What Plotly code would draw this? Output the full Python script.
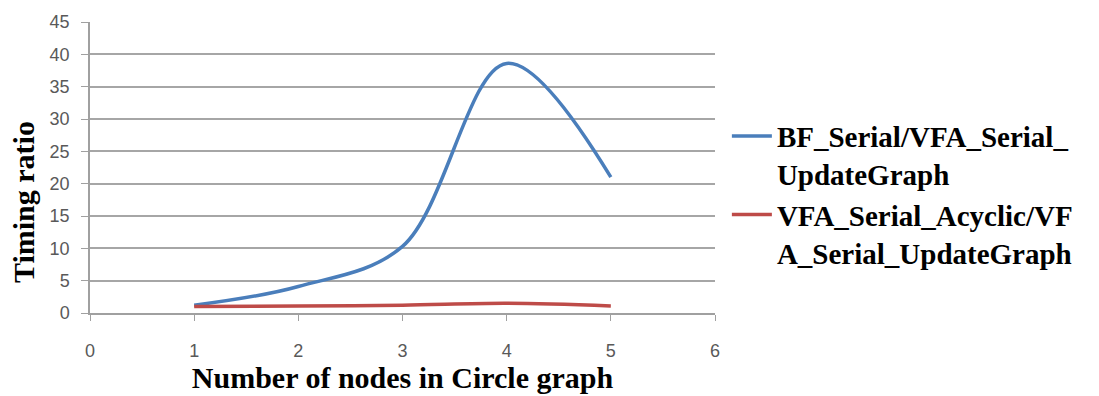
import plotly.graph_objects as go

x_nodes = [1, 2, 3, 4, 5]
bf_ratio = [1.2, 4.1, 10.3, 38.6, 21.0]
acyclic_ratio = [1.0, 1.1, 1.2, 1.5, 1.1]
name_bf = "<b>BF_Serial/VFA_Serial_<br>UpdateGraph</b>"
name_acyc = "<b>VFA_Serial_Acyclic/VF<br>A_Serial_UpdateGraph</b>"
x_ticks = [0, 1, 2, 3, 4, 5, 6]
y_ticks = [0, 5, 10, 15, 20, 25, 30, 35, 40, 45]

fig = go.Figure()
fig.add_trace(go.Scatter(x=x_nodes, y=bf_ratio, mode="lines", name=name_bf,
                         line=dict(color="#4A7EBB", width=3.5, shape="spline", smoothing=1)))
fig.add_trace(go.Scatter(x=x_nodes, y=acyclic_ratio, mode="lines", name=name_acyc,
                         line=dict(color="#BE4B48", width=3.5, shape="spline", smoothing=1)))

tickfont = dict(family="Liberation Sans, Arial", size=18, color="#595959")
titlefont = dict(family="Liberation Serif, Times New Roman", size=30, color="#000000")

fig.update_layout(
    width=1099, height=396,
    margin=dict(l=90, r=384, t=14, b=83),
    paper_bgcolor="white", plot_bgcolor="white",
    showlegend=True,
    legend=dict(x=1.019, y=0.408, xanchor="left", yanchor="middle", valign="top",
                font=dict(family="Liberation Serif, Times New Roman", size=29, color="#000000"),
                tracegroupgap=6, itemwidth=40),
    xaxis=dict(range=[0, 6], tickvals=x_ticks, showgrid=False, zeroline=False,
               showline=True, linecolor="#A0A0A0", linewidth=1.5,
               ticks="outside", ticklen=6, tickcolor="#A0A0A0",
               ticklabelstandoff=15, tickfont=tickfont,
               title=dict(text="<b>Number of nodes in Circle graph</b>", font=titlefont, standoff=2)),
    yaxis=dict(range=[0, 45], tickvals=y_ticks, showgrid=True, gridcolor="#A6A6A6", gridwidth=1.5,
               zeroline=False, showline=True, linecolor="#A0A0A0", linewidth=1.5,
               ticks="outside", ticklen=7, tickcolor="#A0A0A0",
               ticklabelstandoff=8, tickfont=tickfont),
    annotations=[dict(text="<b>Timing ratio</b>", textangle=-90, font=titlefont,
                      xref="paper", yref="paper", x=(23 - 90) / 625, y=(313 - 199) / 299,
                      xanchor="center", yanchor="middle", showarrow=False)],
)

fig.write_html("out.html")
